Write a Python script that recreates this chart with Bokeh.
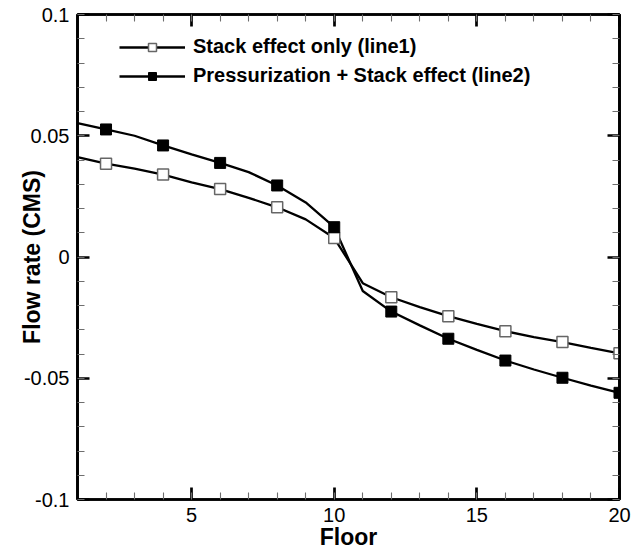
from bokeh.plotting import figure
from bokeh.models import (Range1d, FixedTicker, LinearAxis, Legend, LegendItem,
                          ColumnDataSource, CustomJSTickFormatter)
from bokeh.embed import file_html
from bokeh.resources import INLINE

# ---- data ----
floors = list(range(1, 21))
stack_only = [0.0412, 0.0385, 0.0364, 0.0340, 0.0308, 0.0280, 0.0244, 0.0205, 0.0155, 0.0078,
              -0.0108, -0.0166, -0.0207, -0.0244, -0.0276, -0.0306, -0.0330, -0.0351, -0.0375, -0.0397]
press_stack = [0.0552, 0.0526, 0.0500, 0.0460, 0.0423, 0.0388, 0.0350, 0.0295, 0.0225, 0.0123,
               -0.0140, -0.0225, -0.0282, -0.0337, -0.0383, -0.0427, -0.0464, -0.0498, -0.0530, -0.0560]
marker_floors = [2, 4, 6, 8, 10, 12, 14, 16, 18, 20]
series_names = ["Stack effect only (line1)", "Pressurization + Stack effect (line2)"]
x_major_ticks = [5, 10, 15, 20]
x_minor_ticks = list(range(1, 21))
y_major_ticks = [-0.1, -0.05, 0, 0.05, 0.1]
y_tick_labels = ["-0.1", "-0.05", "0", "0.05", "0.1"]
y_minor_ticks = [round(-0.1 + 0.01 * i, 2) for i in range(21)]
x_title = "Floor"
y_title = "Flow rate (CMS)"

FONT = "Liberation Sans"

p = figure(width=631, height=554, output_backend="svg", toolbar_location=None,
           x_range=Range1d(1, 20), y_range=Range1d(-0.1, 0.1),
           min_border_left=77, min_border_right=12, min_border_top=14, min_border_bottom=55)
p.xgrid.visible = False
p.ygrid.visible = False
p.outline_line_color = "black"
p.outline_line_width = 2.7
p.background_fill_color = "white"
p.border_fill_color = "white"

src1 = ColumnDataSource(dict(x=floors, y=stack_only))
src2 = ColumnDataSource(dict(x=floors, y=press_stack))
m1 = ColumnDataSource(dict(x=marker_floors, y=[stack_only[floors.index(f)] for f in marker_floors]))
m2 = ColumnDataSource(dict(x=marker_floors, y=[press_stack[floors.index(f)] for f in marker_floors]))

l1 = p.line("x", "y", source=src1, line_color="black", line_width=2.3)
l2 = p.line("x", "y", source=src2, line_color="black", line_width=2.3)
s1 = p.scatter("x", "y", source=m1, marker="square", size=11,
               fill_color="white", line_color="#666666", line_width=1.5)
s2 = p.scatter("x", "y", source=m2, marker="square", size=11,
               fill_color="black", line_color="black", line_width=1)

def style_axis(ax, ticks, minor, labels=True, overrides=None):
    ax.ticker = FixedTicker(ticks=ticks, minor_ticks=minor)
    ax.axis_line_color = "black"
    ax.axis_line_width = 2.7
    ax.major_tick_line_color = "black"
    ax.major_tick_line_width = 2.7
    ax.minor_tick_line_color = "#6e6e6e"
    ax.minor_tick_line_width = 1.1
    ax.major_tick_in = 12
    ax.major_tick_out = 0
    ax.minor_tick_in = 7
    ax.minor_tick_out = 0
    if labels:
        ax.major_label_text_font = FONT
        ax.major_label_text_font_size = "20px"
        ax.major_label_text_color = "black"
        ax.major_label_standoff = 8
        if overrides:
            ax.major_label_overrides = overrides
        ax.axis_label_text_font = FONT
        ax.axis_label_text_font_size = "23px"
        ax.axis_label_text_font_style = "bold"
        ax.axis_label_text_color = "black"
    else:
        ax.axis_label = None
        ax.formatter = CustomJSTickFormatter(code="return '';")
        ax.major_label_standoff = 0

xa = p.xaxis[0]
ya = p.yaxis[0]
style_axis(xa, x_major_ticks, x_minor_ticks)
style_axis(ya, y_major_ticks, y_minor_ticks,
           overrides={t: s for t, s in zip(y_major_ticks, y_tick_labels)})
xa.axis_label = x_title
xa.axis_label_standoff = -1
ya.axis_label = y_title
ya.axis_label_standoff = -24

top_ax = LinearAxis()
style_axis(top_ax, x_major_ticks, x_minor_ticks, labels=False)
p.add_layout(top_ax, "above")
right_ax = LinearAxis()
style_axis(right_ax, y_major_ticks, y_minor_ticks, labels=False)
p.add_layout(right_ax, "right")

legend = Legend(items=[LegendItem(label=series_names[0], renderers=[l1, s1]),
                       LegendItem(label=series_names[1], renderers=[l2, s2])],
                location=(42, 412), glyph_width=66, glyph_height=20, label_height=20,
                spacing=6, padding=0, margin=0, label_standoff=8,
                border_line_color=None, background_fill_alpha=0,
                label_text_font=FONT, label_text_font_size="20px",
                label_text_font_style="bold", label_text_color="black")
p.add_layout(legend, "center")

open("out.html", "w").write(file_html(p, INLINE))
